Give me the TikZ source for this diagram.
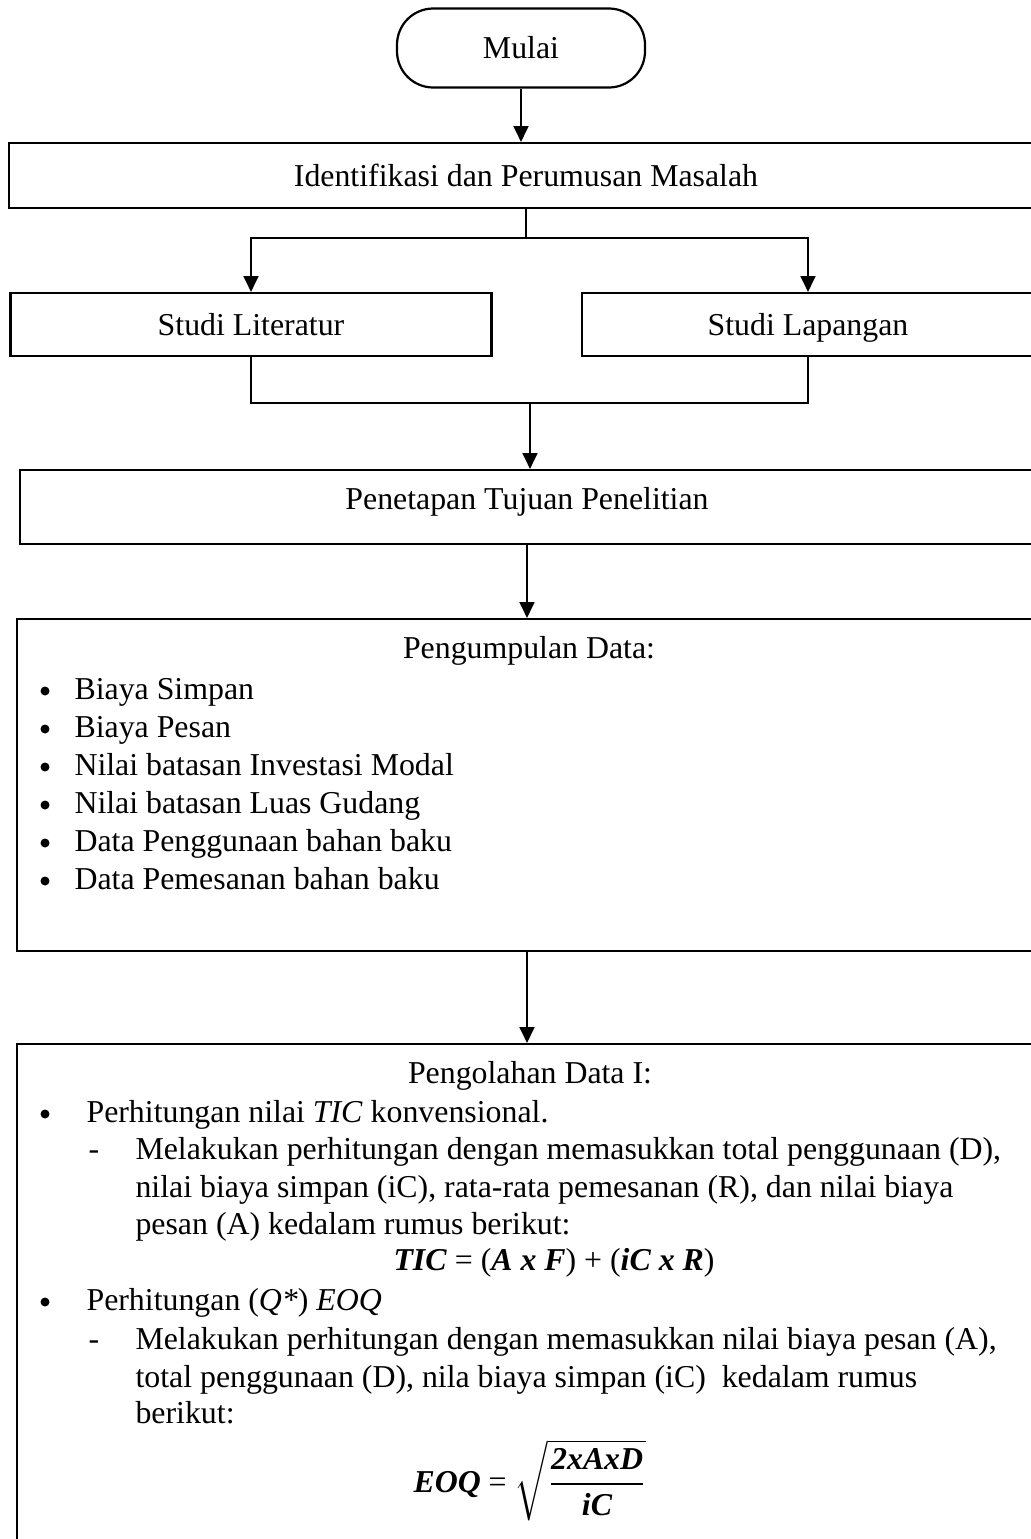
\documentclass[tikz,border=0pt]{standalone}
\usepackage{amsmath}
\usepackage{fontspec}
\setmainfont{Liberation Serif}
\usetikzlibrary{arrows.meta}
\usetikzlibrary{positioning}

\newcommand{\pxl}{0.0127cm}
\newcommand{\tebal}[1]{\textbf{\textit{#1}}}

\begin{document}
\begin{tikzpicture}[x=0.0127cm, y=-0.0127cm, font=\fontsize{11.5}{13.5}\selectfont,
		box/.style = {draw, line width=0.8pt, inner sep=0pt, text height=10pt, text depth=2.4pt},
		flow/.style = {line width=0.6pt, -{Triangle[length=2mm,width=1.9mm]}},
		link/.style = {line width=0.6pt},
		dot/.style = {circle, fill, inner sep=0pt, minimum size=9*\pxl}]
		\useasboundingbox (0,0) rectangle (1031,1539);
		% kotak alur
		\node[box, rounded corners=0.46cm, minimum width=248*\pxl, minimum height=79*\pxl] (mulai) at (521,48) {Mulai};
		\node[box, minimum width=1034*\pxl, minimum height=65*\pxl] (identifikasi) at (526,175.5) {Identifikasi dan Perumusan Masalah};
		\node[box, minimum width=481*\pxl, minimum height=63*\pxl] (literatur) at (251,324.5) {Studi Literatur};
		\node[box, minimum width=452*\pxl, minimum height=63*\pxl] (lapangan) at (808,324.5) {Studi Lapangan};
		\node[box, minimum width=1014*\pxl, minimum height=74*\pxl] (penetapan) at (527,507) {};
		\node[anchor=base] at (527,509) {Penetapan Tujuan Penelitian};
		\node[box, minimum width=1020*\pxl, minimum height=332*\pxl] (pengumpulan) at (527,785) {};
		\node[box, minimum width=1020*\pxl, minimum height=516*\pxl] (pengolahan) at (527,1302) {};
		% penghubung
		\coordinate (pisah) at (526,238);
		\coordinate (gabung) at (530,403);
		\draw[flow] (mulai.south) -- (mulai.south |- identifikasi.north);
		\draw[link] (identifikasi.south) -- (pisah);
		\draw[flow] (pisah) -| (literatur.north);
		\draw[flow] (pisah) -| (lapangan.north);
		\draw[link] (literatur.south) |- (gabung) -| (lapangan.south);
		\draw[flow] (gabung) -- (gabung |- penetapan.north);
		\draw[flow] (penetapan.south) -- (pengumpulan.north);
		\draw[flow] (pengumpulan.south) -- (pengolahan.north);
		% isi pengumpulan data
		\node[anchor=base] (judul1) at (529,658) {Pengumpulan Data:};
		\foreach \entri [count=\i from 0] in {Biaya Simpan, Biaya Pesan, Nilai batasan Investasi Modal, Nilai batasan Luas Gudang, Data Penggunaan bahan baku, Data Pemesanan bahan baku}
		{
			\node[dot] (titik\i) at (45,691+38*\i) {};
			\node[anchor=base west, inner sep=0pt] (data\i) at (74,699+38*\i) {\entri};
		}
		% isi pengolahan data
		\node[anchor=base] (judul2) at (530,1083) {Pengolahan Data I:};
		\node[dot] (poin1) at (45,1114) {};
		\node[anchor=base west, inner sep=0pt] (hitung1) at (86,1122) {Perhitungan nilai \textit{TIC} konvensional.};
		\node[anchor=base west, inner sep=0pt] (strip1) at (88,1159) {-};
		\node[anchor=base west, inner sep=0pt] (ket1a) at (135,1159) {Melakukan perhitungan dengan memasukkan total penggunaan (D),};
		\node[anchor=base west, inner sep=0pt] (ket1b) at (135,1197) {nilai biaya simpan (iC), rata-rata pemesanan (R), dan nilai biaya};
		\node[anchor=base west, inner sep=0pt] (ket1c) at (135,1234) {pesan (A) kedalam rumus berikut:};
		\node[anchor=base, inner sep=0pt] (rumus1) at (554,1270) {\tebal{TIC} = (\tebal{A x F}) + (\tebal{iC x R})};
		\node[dot] (poin2) at (45,1302) {};
		\node[anchor=base west, inner sep=0pt] (hitung2) at (86,1310) {Perhitungan (\textit{Q*}) \textit{EOQ}};
		\node[anchor=base west, inner sep=0pt] (strip2) at (88,1349) {-};
		\node[anchor=base west, inner sep=0pt] (ket2a) at (135,1349) {Melakukan perhitungan dengan memasukkan nilai biaya pesan (A),};
		\node[anchor=base west, inner sep=0pt] (ket2b) at (135,1387) {total penggunaan (D), nila biaya simpan (iC) \ kedalam rumus};
		\node[anchor=base west, inner sep=0pt] (ket2c) at (135,1423) {berikut:};
		\node[inner sep=0pt] (rumus2) at (530,1480) {\tebal{EOQ} = $\sqrt{\dfrac{\text{\tebal{2xAxD}}}{\text{\tebal{iC}}}}$};
	\end{tikzpicture}
\end{document}
